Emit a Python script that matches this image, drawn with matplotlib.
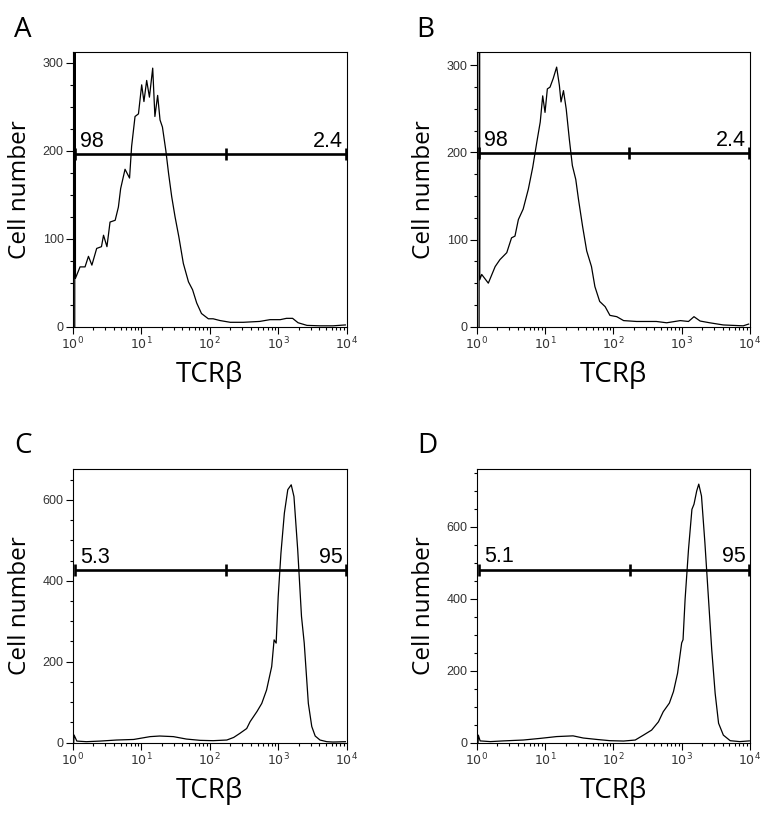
import numpy as np
import matplotlib.pyplot as plt
from matplotlib.ticker import MultipleLocator, LogLocator

plt.rcParams['mathtext.fontset'] = 'custom'
plt.rcParams['mathtext.rm'] = 'Liberation Sans'
plt.rcParams['mathtext.it'] = 'Liberation Sans'

# log10(TCRb intensity) and cell counts
a_log = [0.03, 0.035, 0.04, 0.107, 0.18, 0.23, 0.28, 0.35, 0.42, 0.45, 0.50, 0.545, 0.62,
         0.667, 0.70, 0.764, 0.83, 0.86, 0.91, 0.96, 1.007, 1.04, 1.08, 1.12, 1.168, 1.20,
         1.24, 1.275, 1.31, 1.36, 1.40, 1.445, 1.494, 1.55, 1.615, 1.69, 1.75, 1.81, 1.88,
         1.98, 2.05, 2.15, 2.30, 2.49, 2.73, 2.88, 3.03, 3.12, 3.21, 3.29, 3.42, 3.61, 3.80,
         3.98]
a_cnt = [0, 1000, 55, 68, 68, 80, 70, 89, 91, 104, 91, 119, 121,
         136, 157, 179, 169, 205, 239, 242, 275, 256, 280, 261, 294, 239,
         263, 235, 227, 200, 174, 148, 125, 102, 72, 51, 42, 27, 15,
         9, 9, 7, 5, 5, 6, 8, 8, 9.5, 9.5, 4.5, 1.5, 1, 1,
         2]

b_log = [0.035, 0.04, 0.045, 0.073, 0.17, 0.27, 0.34, 0.44, 0.51, 0.56, 0.61, 0.68, 0.756,
         0.82, 0.88, 0.93, 0.966, 1.0, 1.034, 1.073, 1.12, 1.17, 1.21, 1.234, 1.27, 1.31,
         1.356, 1.40, 1.45, 1.49, 1.55, 1.61, 1.68, 1.73, 1.80, 1.88, 1.95, 2.05, 2.15,
         2.34, 2.63, 2.78, 2.98, 3.10, 3.18, 3.27, 3.41, 3.61, 3.90, 3.98]
b_cnt = [0, 1000, 54, 60, 50, 69, 77, 85, 102, 104, 123, 135, 158,
         183, 212, 235, 265, 246, 273, 275, 285, 298, 277, 258, 271, 250,
         215, 185, 169, 146, 115, 87, 69, 46, 29, 23, 13, 11.5, 7,
         6, 6, 4.5, 7, 6, 11.5, 6.5, 4.5, 2, 1, 3]

c_log = [0.015, 0.02, 0.06, 0.2, 0.4, 0.64, 0.89, 1.13, 1.27, 1.47, 1.66, 1.86, 2.05, 2.25,
         2.35, 2.44, 2.54, 2.59, 2.69, 2.76, 2.83, 2.905, 2.94, 2.97, 3.00, 3.04, 3.09,
         3.14, 3.19, 3.23, 3.285, 3.34, 3.38, 3.44, 3.49, 3.54, 3.61, 3.71, 3.80, 3.98]
c_cnt = [0, 19, 4, 2.5, 4, 6.6, 8, 15, 16.5, 15, 9, 5.8, 5, 6.6,
         13, 23, 35, 52, 77, 97, 130, 188, 254, 246, 361, 468, 567,
         625, 637, 608, 476, 312, 246, 97, 40, 16.5, 6.6, 2.5, 1.6, 2.5]

d_log = [0.02, 0.024, 0.05, 0.2, 0.39, 0.68, 0.93, 1.17, 1.41, 1.56, 1.76, 1.95, 2.15, 2.32,
         2.44, 2.56, 2.66, 2.73, 2.82, 2.88, 2.94, 3.0, 3.02, 3.05, 3.10, 3.15, 3.18,
         3.22, 3.25, 3.29, 3.34, 3.39, 3.44, 3.49, 3.54, 3.61, 3.71, 3.85, 3.99]
d_cnt = [0, 21, 5, 3, 5, 7.4, 12, 17, 19, 13, 9, 5.6, 4.6, 7.4,
         21, 35, 58, 86, 110, 142, 193, 277, 286, 398, 537, 648, 662,
         699, 718, 685, 555, 407, 258, 137, 54, 21, 5.6, 3, 5]

panels = ["A", "B", "C", "D"]
hist_logs = [a_log, b_log, c_log, d_log]
hist_cnts = [a_cnt, b_cnt, c_cnt, d_cnt]
y_tops = [312, 315, 676, 760]
y_major = [100, 100, 200, 200]
y_minor = [25, 25, 50, 50]
gate_y = [196, 199, 426, 480]
gate_left = [0.04, 0.04, 0.04, 0.04]
gate_mid = [2.238, 2.234, 2.238, 2.244]
gate_right = [3.985, 3.985, 3.985, 3.985]
left_pct = ["98", "98", "5.3", "5.1"]
right_pct = ["2.4", "2.4", "95", "95"]

fig = plt.figure(figsize=(7.74, 8.27), dpi=100)
W, H = 774, 827
# axes boxes in pixels: left, top, width, height
boxes = [(72.7, 52.3, 274, 274.4), (476.7, 52.3, 273.3, 274.4),
         (72.7, 469, 274, 273.7), (476.7, 469, 273.3, 273.7)]
letter_xy = [(14, 37), (416, 37), (14, 453), (417, 453)]

for i, p in enumerate(panels):
    l, t, w, h = boxes[i]
    ax = fig.add_axes([l / W, 1 - (t + h) / H, w / W, h / H])
    x = 10 ** np.array(hist_logs[i])
    ax.plot(x, hist_cnts[i], color="black", lw=0.9)
    ax.set_xscale("log")
    ax.set_xlim(1, 1e4)
    ax.set_ylim(0, y_tops[i])
    ax.yaxis.set_major_locator(MultipleLocator(y_major[i]))
    ax.yaxis.set_minor_locator(MultipleLocator(y_minor[i]))
    ax.xaxis.set_major_locator(LogLocator(base=10, numticks=10))
    ax.xaxis.set_minor_locator(LogLocator(base=10, subs=np.arange(2, 10), numticks=10))
    ax.tick_params(which="major", direction="out", length=5, width=0.8,
                   labelsize=9, labelcolor="#333333", pad=1.5)
    ax.tick_params(which="minor", direction="out", length=2.2, width=0.8)
    for lab in ax.get_yticklabels():
        lab.set_family("Liberation Sans")
    for s in ax.spines.values():
        s.set_linewidth(0.8)

    # gate bar
    gx = 10 ** np.array([gate_left[i], gate_mid[i], gate_right[i]])
    gy = [gate_y[i]] * 3
    ax.plot([gx[0], gx[2]], [gy[0], gy[0]], color="black", lw=1.9, solid_capstyle="butt")
    ax.plot(gx, gy, ls="none", marker="|", ms=8, mew=1.9, color="black")
    ax.annotate(left_pct[i], xy=(10 ** 0.105, gate_y[i]), xytext=(0, 5.5),
                textcoords="offset points", ha="left", va="baseline",
                fontsize=15.5, family="Liberation Sans")
    ax.annotate(right_pct[i], xy=(10 ** 3.94, gate_y[i]), xytext=(0, 5.5),
                textcoords="offset points", ha="right", va="baseline",
                fontsize=15.5, family="Liberation Sans")

    ax.set_ylabel("Cell number", family="Open Sans", fontsize=17.5, labelpad=8)
    ax.set_xlabel("TCR\u03b2", family="Open Sans", fontsize=20, labelpad=6)

    lx, ly = letter_xy[i]
    fig.text(lx / W, 1 - ly / H, p, family="Open Sans", fontsize=20,
             ha="left", va="baseline")

fig.savefig("out.png", dpi=100)
